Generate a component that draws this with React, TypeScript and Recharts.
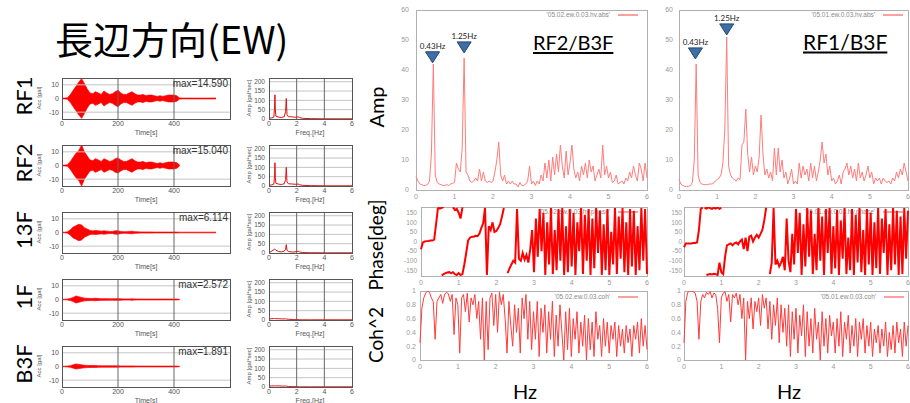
import React from 'react';
import {
  LineChart,
  Line,
  AreaChart,
  Area,
  XAxis,
  YAxis,
  ReferenceLine,
  ReferenceDot,
} from 'recharts';

// --- left column: acceleration records (envelope, gal) every 10 s ---
const TIME = [
  0, 10, 20, 30, 40, 50, 60, 70, 80, 90,
  100, 110, 120, 130, 140, 150, 160, 170, 180, 190,
  200, 210, 220, 230, 240, 250, 260, 270, 280, 290,
  300, 310, 320, 330, 340, 350, 360, 370, 380, 390,
  400, 410, 420, 430, 440, 450, 460, 470, 480, 490,
  500, 510, 520, 530, 540, 550, 560, 570, 580, 590,
  600,
];

const ACC_RF1 = [
  0.3, 0.3, 0.6, 3, 6, 9, 12, 14.5, 11, 7,
  4, 3.5, 5, 4, 3, 5.5, 4, 3, 3.5, 5,
  6, 4, 3, 3, 4, 5, 3.5, 2.5, 2.5, 3,
  2, 2.5, 2.5, 2, 1.5, 2, 1.5, 2, 2.5, 2.5,
  2.5, 2, 0.4, 0.3, 0.3, 0.3, 0.3, 0.3, 0.3, 0.3,
  0.3, 0.3, 0.3, 0.3, 0.3, 0.3, null, null, null, null,
  null,
];
const ACC_RF2 = [
  0.3, 0.3, 0.6, 3, 6, 9, 11, 15, 10, 7,
  4, 3.5, 5, 4, 3, 5, 4, 3, 3.5, 5,
  5.5, 4, 3, 3, 4, 5, 3.5, 2.5, 2.5, 3,
  2, 2.5, 2.5, 2, 1.5, 2, 1.5, 2, 2.5, 2.5,
  2.5, 2, 0.3, null, null, null, null, null, null, null,
  null, null, null, null, null, null, null, null, null, null,
  null,
];
const ACC_13F = [
  0.2, 0.2, 0.5, 2, 4, 5, 6, 5.5, 3.5, 2.5,
  1.5, 1.2, 1.5, 1.2, 1, 1.2, 1, 0.8, 0.8, 1.2,
  1.2, 0.8, 0.6, 0.6, 0.8, 1, 0.6, 0.5, 0.4, 0.4,
  0.4, 0.4, 0.4, 0.3, 0.3, 0.3, 0.3, 0.3, 0.3, 0.3,
  0.3, 0.3, 0.25, 0.25, 0.25, 0.25, 0.25, 0.25, 0.25, 0.25,
  0.25, 0.25, 0.25, 0.25, 0.25, 0.25, null, null, null, null,
  null,
];
const ACC_1F = [
  0.2, 0.2, 0.3, 0.8, 1.5, 2.6, 2, 1.5, 1, 0.9,
  0.8, 0.8, 0.9, 0.7, 0.6, 0.6, 0.6, 0.5, 0.5, 0.6,
  0.6, 0.5, 0.4, 0.4, 0.4, 0.5, 0.4, 0.3, 0.3, 0.3,
  0.3, 0.3, 0.3, 0.3, 0.3, 0.3, 0.3, 0.3, 0.3, 0.3,
  0.3, 0.3, 0.2, null, null, null, null, null, null, null,
  null, null, null, null, null, null, null, null, null, null,
  null,
];
const ACC_B3F = [
  0.2, 0.2, 0.3, 0.6, 1.2, 1.9, 1.5, 1.2, 0.9, 0.8,
  0.7, 0.7, 0.7, 0.6, 0.5, 0.5, 0.5, 0.5, 0.5, 0.5,
  0.5, 0.4, 0.4, 0.4, 0.4, 0.4, 0.35, 0.3, 0.3, 0.3,
  0.3, 0.3, 0.3, 0.3, 0.3, 0.3, 0.3, 0.3, 0.3, 0.3,
  0.3, 0.3, 0.2, null, null, null, null, null, null, null,
  null, null, null, null, null, null, null, null, null, null,
  null,
];

// --- left column: fourier spectra (gal*sec) ---
const SPEC_F = [0, 0.2, 0.35, 0.4, 0.43, 0.46, 0.5, 0.7, 0.9, 1.1, 1.2, 1.25, 1.3, 1.4, 1.6, 1.8, 2.0, 2.1, 2.2, 2.4, 2.6, 3, 4, 5, 6];
const SPEC_RF1 = [4, 6, 10, 60, 130, 50, 15, 10, 8, 12, 40, 110, 25, 12, 12, 10, 9, 12, 8, 4, 3, 2, 1, 1, 1];
const SPEC_RF2 = [4, 6, 10, 55, 125, 45, 14, 10, 8, 12, 35, 100, 22, 12, 11, 10, 9, 11, 7, 4, 3, 2, 1, 1, 1];
const SPEC_13F = [2, 10, 18, 20, 22, 18, 15, 8, 6, 10, 20, 45, 15, 8, 6, 5, 8, 10, 6, 3, 2, 1.5, 1, 1, 1];
const SPEC_1F = [5, 7, 8, 8, 8, 8, 7, 7, 6, 6, 6, 6, 5, 4, 3, 2, 2, 2, 1.5, 1, 1, 1, 1, 1, 1];
const SPEC_B3F = [4, 6, 6, 6, 6, 6, 6, 6, 5, 5, 5, 5, 4, 3, 2, 2, 1.5, 1.5, 1, 1, 1, 1, 1, 1, 1];

const FLOORS = ['RF1', 'RF2', '13F', '1F', 'B3F'];
const MAX_LABELS = ['max=14.590', 'max=15.040', 'max=6.114', 'max=2.572', 'max=1.891'];
const ACCS = [ACC_RF1, ACC_RF2, ACC_13F, ACC_1F, ACC_B3F];
const SPECS = [SPEC_RF1, SPEC_RF2, SPEC_13F, SPEC_1F, SPEC_B3F];

// --- right: transfer functions, 0.05 Hz step ---
const FREQ = [
  0, 0.05, 0.1, 0.15, 0.2, 0.25, 0.3, 0.35, 0.4, 0.45,
  0.5, 0.55, 0.6, 0.65, 0.7, 0.75, 0.8, 0.85, 0.9, 0.95,
  1, 1.05, 1.1, 1.15, 1.2, 1.25, 1.3, 1.35, 1.4, 1.45,
  1.5, 1.55, 1.6, 1.65, 1.7, 1.75, 1.8, 1.85, 1.9, 1.95,
  2, 2.05, 2.1, 2.15, 2.2, 2.25, 2.3, 2.35, 2.4, 2.45,
  2.5, 2.55, 2.6, 2.65, 2.7, 2.75, 2.8, 2.85, 2.9, 2.95,
  3, 3.05, 3.1, 3.15, 3.2, 3.25, 3.3, 3.35, 3.4, 3.45,
  3.5, 3.55, 3.6, 3.65, 3.7, 3.75, 3.8, 3.85, 3.9, 3.95,
  4, 4.05, 4.1, 4.15, 4.2, 4.25, 4.3, 4.35, 4.4, 4.45,
  4.5, 4.55, 4.6, 4.65, 4.7, 4.75, 4.8, 4.85, 4.9, 4.95,
  5, 5.05, 5.1, 5.15, 5.2, 5.25, 5.3, 5.35, 5.4, 5.45,
  5.5, 5.55, 5.6, 5.65, 5.7, 5.75, 5.8, 5.85, 5.9, 5.95,
  6,
];

// RF2/B3F
const AMP_A = [
  4.5, 3, 2, 1.8, 1.5, 1.5, 1.8, 3, 12, 42,
  5, 2.5, 2, 1.8, 1.5, 1.5, 1.8, 1.5, 2, 2.2,
  2.5, 9, 7, 6, 14, 44, 6, 5, 3, 2.5,
  3, 4, 3, 7, 3, 6, 3, 2.5, 3, 2.5,
  3, 6, 10, 16, 5, 3, 5, 2, 3, 2,
  3, 2, 2, 1, 2.5, 1.5, 1.5, 2, 3, 8,
  2, 3, 1.5, 3, 2, 5, 3, 9, 4, 10,
  3, 11, 5, 12, 6, 15, 8, 4, 13, 5,
  9, 15, 7, 4, 6, 3, 8, 5, 9, 4,
  10, 6, 8, 3, 5, 7, 4, 15, 5, 8,
  4, 6, 2.5, 3, 5, 2, 2.5, 3, 2, 4,
  3, 6, 4, 8, 5, 3, 9, 7, 3, 9,
  4,
];
const PHASE_A = [
  -40, -5, 0, 2, 3, 5, 5, 10, 90, 175,
  null, -178, -170, -165, -162, -160, -165, -160, -170, -175,
  -165, -175, -170, -120, -60, 5, 20, 25, 25, 30,
  28, 40, 70, 95, 175, -175, 80, 60, 100, 50,
  55, 70, 90, 130, 175, null, -165, -140, -120, -100,
  -110, 170, -90, -100, -60, -95, -70, -110, -40, 60,
  -160, 120, -80, 170, -50, 150, -175, 100, -120, 175,
  -170, 60, -150, 170, -100, 175, -175, 80, -160, 170,
  -130, 150, -175, 100, -50, 175, -170, 140, -100, 170,
  -175, 120, -140, 175, -60, 160, -175, 90, -150, 170,
  -175, 50, -120, 175, -170, 130, -90, 175, -160, 100,
  -175, 170, -130, 160, -175, 80, -150, 175, -100, 170,
  -170,
];
const PHASE_A_ALT_F = [0.45, 0.5, 0.55, 0.6, 0.7, 0.85, 0.9, 0.95, 1.0, 1.05, 1.1];
const PHASE_A_ALT = [178, 172, 176, 180, null, 178, 165, 170, 150, 120, 178];
const COH_A = [
  0.25, 0.75, 0.9, 0.97, 1, 0.98, 0.9, 0.85, 0.3, 0.85,
  0.9, 0.95, 0.82, 0.95, 0.98, 0.96, 0.85, 0.95, 0.37, 0.9,
  0.8, 0.1, 0.9, 0.95, 0.7, 0.97, 0.55, 0.9, 0.8, 0.95,
  0.6, 0.85, 0.3, 0.9, 0, 0.85, 0.15, 0.9, 0.97, 0.5,
  0.95, 0.4, 0.98, 0.8, 0.95, 0.6, 0.1, 0.85, 0.5, 0.2,
  0.8, 0.4, 0.75, 0.1, 0.9, 0.6, 0.95, 0.3, 0.85, 0.15,
  0.7, 0.3, 0.85, 0.05, 0.75, 0.4, 0.8, 0.1, 0.7, 0.3,
  0.85, 0.05, 0.65, 0.2, 0.8, 0.4, 0, 0.7, 0.15, 0.75,
  0.05, 0.6, 0.3, 0.7, 0.1, 0.55, 0.2, 0.65, 0, 0.6,
  0.15, 0.55, 0.05, 0.7, 0.3, 0.5, 0.05, 0.6, 0.2, 0.55,
  0.1, 0.5, 0.3, 0.55, 0.05, 0.5, 0.2, 0.45, 0.1, 0.5,
  0.25, 0.45, 0.05, 0.5, 0.3, 0.55, 0.1, 0.6, 0.2, 0.5,
  0.15,
];

// RF1/B3F
const AMP_B = [
  3.5, 2, 1.5, 1.2, 1.2, 1.2, 1.5, 2.5, 10, 42,
  5, 2.5, 2, 1.8, 1.8, 1.8, 2, 2, 2.2, 3,
  3.5, 4, 5, 9, 20, 51, 8, 5, 4, 3.5,
  3, 4, 3.5, 15, 16, 27, 12, 6, 11, 5,
  8, 6, 11, 25, 12, 5, 7, 4, 6, 3,
  14, 5, 14, 6, 10, 4, 6, 2, 4, 7,
  2, 3, 2, 9, 4, 8, 5, 7, 3, 9,
  4, 8, 3, 6, 10, 16, 9, 12, 5, 8,
  3, 4, 2, 3, 5, 2, 6, 7, 9, 5,
  8, 4, 7, 3, 9, 4, 6, 3, 5, 8,
  4, 6, 2, 4, 3, 4, 2, 4, 3, 2.5,
  3, 2, 4, 3, 6, 4, 7, 5, 9, 6,
  3,
];
const PHASE_B = [
  -30, -10, -10, -10, -10, -8, -8, -5, 60, 170,
  178, null, -175, -172, -170, -172, -168, -170, -175, -110,
  -160, -170, -80, -20, -15, -10, -20, -10, -5, -15,
  0, 10, -40, 20, -50, 25, 30, 0, 20, 35,
  20, 40, 60, 110, 175, null, -170, -110, 175, -120,
  -100, -130, -110, -80, -150, 120, -100, -160, 40, -120,
  170, -60, 150, -175, 90, -130, 175, -80, 160, -170,
  40, -150, 175, -100, 130, -175, 170, -60, 175, -170,
  80, -140, 165, -175, 110, -90, 175, -170, 20, -150,
  170, -175, 140, -110, 175, -160, 60, -175, 170, -120,
  150, -175, 100, -140, 175, -170, 120, -60, 170, -175,
  90, -150, 175, -120, 160, -175, 130, -170, 175, -90,
  160,
];
const PHASE_B_ALT_F = [0.55, 0.6, 0.65, 0.7, 0.75, 0.8, 0.85, 0.9, 0.95, 1.0];
const PHASE_B_ALT = [176, 172, 178, 174, 170, 176, 172, 178, 170, 175];
const COH_B = [
  0.25, 0.85, 0.98, 1, 1, 0.99, 0.97, 0.85, 0.3, 0.85,
  0.95, 0.9, 0.98, 0.95, 0.99, 0.9, 0.97, 0.95, 0.75, 0.25,
  0.9, 0.97, 0.99, 0.85, 0.95, 0.55, 0.95, 0.9, 0.97, 0.8,
  0.95, 0.6, 0.9, 0, 0.85, 0.6, 0.9, 0.45, 0.85, 0.7,
  0.9, 0.5, 0.95, 0.75, 0.9, 0.45, 0.85, 0.3, 0.8, 0.5,
  0.9, 0.25, 0.8, 0.4, 0.75, 0.2, 0.8, 0.05, 0.7, 0.3,
  0.75, 0.1, 0.65, 0.35, 0.8, 0.05, 0.7, 0.2, 0.6, 0.1,
  0.75, 0.3, 0.55, 0, 0.7, 0.2, 0.6, 0.1, 0.65, 0.35,
  0.55, 0.1, 0.6, 0.2, 0.7, 0.05, 0.55, 0.3, 0.65, 0.1,
  0.5, 0.2, 0.6, 0.05, 0.55, 0.3, 0.6, 0.1, 0.5, 0.2,
  0.55, 0.05, 0.45, 0.25, 0.5, 0.1, 0.45, 0.2, 0.55, 0.05,
  0.4, 0.15, 0.5, 0.1, 0.55, 0.25, 0.45, 0.05, 0.55, 0.2,
  0.5,
];

const PEAK_F = [0.43, 1.25];
const PEAK_LABELS = ['0.43Hz', '1.25Hz'];
const PEAK_TIP_A = [42.4, 45.7];
const PEAK_TIP_B = [43.7, 51.7];

const SANS = '"Liberation Sans", Arial, sans-serif';
const HUMAN = 'Lato, "Open Sans", sans-serif';

type Box = { x: number; y: number; w: number; h: number };

function Frame({ b, color }: { b: Box; color: string }) {
  return (
    <div
      style={{
        position: 'absolute',
        left: b.x,
        top: b.y,
        width: b.w + 1,
        height: b.h + 1,
        border: `1px solid ${color}`,
        boxSizing: 'border-box',
        pointerEvents: 'none',
      }}
    />
  );
}

function T({
  x, y, size, text, align = 'center', rot = false, color = '#000', font = HUMAN, underline = false,
}: {
  x: number; y: number; size: number; text: string; align?: string; rot?: boolean;
  color?: string; font?: string; underline?: boolean;
}) {
  const tx = align === 'center' ? '-50%' : align === 'right' ? '-100%' : '0';
  return (
    <div
      style={{
        position: 'absolute',
        left: x,
        top: y,
        transform: `translate(${tx},-50%)${rot ? ' rotate(-90deg)' : ''}`,
        fontSize: size,
        fontFamily: font,
        color,
        lineHeight: 1,
        whiteSpace: 'nowrap',
        textDecoration: underline ? 'underline' : 'none',
        textUnderlineOffset: 2,
        textDecorationThickness: 1.5,
      }}
    >
      {text}
    </div>
  );
}

function AccPlot({ top, acc }: { top: number; acc: (number | null)[] }) {
  const b = { x: 62, y: top, w: 168, h: 41 };
  const yw = 24, xh = 18, mt = 4, mr = 4;
  const data = TIME.map((t, i) => ({ t, v: acc[i] == null ? null : [-(acc[i] as number), acc[i]] }));
  return (
    <div style={{ position: 'absolute', left: b.x - yw, top: b.y - mt }}>
      <AreaChart width={yw + b.w + mr} height={mt + b.h + xh} data={data} margin={{ top: mt, right: mr, bottom: 0, left: 0 }}>
        <XAxis dataKey="t" type="number" domain={[0, 600]} ticks={[0, 200, 400]} height={xh} tickLine={false} axisLine={false} tickSize={0} tickMargin={2} interval={0} tick={{ fontSize: 7, fill: '#555', fontFamily: SANS }} />
        <YAxis type="number" domain={[-15, 15]} ticks={[-10, 0, 10]} width={yw} tickLine={false} axisLine={false} tickSize={0} tickMargin={3} interval={0} tick={{ fontSize: 7, fill: '#555', fontFamily: SANS }} />
        <ReferenceLine y={10} stroke="#c4c4c4" />
        <ReferenceLine y={-10} stroke="#c4c4c4" />
        <ReferenceLine x={200} stroke="#666" />
        <ReferenceLine x={400} stroke="#666" />
        <Area dataKey="v" type="linear" stroke="#f00" strokeWidth={0.7} fill="#f00" fillOpacity={1} dot={false} activeDot={false} isAnimationActive={false} />
      </AreaChart>
    </div>
  );
}

function SpecPlot({ top, spec }: { top: number; spec: number[] }) {
  const b = { x: 269, y: top, w: 83, h: 41 };
  const yw = 24, xh = 18, mt = 4, mr = 4;
  const data = SPEC_F.map((f, i) => ({ f, a: spec[i] }));
  return (
    <div style={{ position: 'absolute', left: b.x - yw, top: b.y - mt }}>
      <LineChart width={yw + b.w + mr} height={mt + b.h + xh} data={data} margin={{ top: mt, right: mr, bottom: 0, left: 0 }}>
        <XAxis dataKey="f" type="number" domain={[0, 6]} ticks={[0, 2, 4, 6]} height={xh} tickLine={false} axisLine={false} tickSize={0} tickMargin={2} interval={0} tick={{ fontSize: 7, fill: '#555', fontFamily: SANS }} />
        <YAxis type="number" domain={[0, 220]} ticks={[0, 50, 100, 150, 200]} width={yw} tickLine={false} axisLine={false} tickSize={0} tickMargin={4} interval={0} tick={{ fontSize: 6.5, fill: '#555', fontFamily: SANS }} />
        {[50, 100, 150, 200].map((v) => <ReferenceLine key={v} y={v} stroke="#c4c4c4" />)}
        <ReferenceLine x={2} stroke="#666" />
        <ReferenceLine x={4} stroke="#666" />
        <Line dataKey="a" type="linear" stroke="#e01010" strokeWidth={1} dot={false} activeDot={false} isAnimationActive={false} />
      </LineChart>
    </div>
  );
}

function Marker(props: any) {
  const { cx, cy, label } = props;
  return (
    <g>
      <text x={cx} y={cy - 14} textAnchor="middle" fontSize={8} fill="#222" fontFamily={HUMAN}>{label}</text>
      <path d={`M${cx - 7},${cy - 11} L${cx + 7},${cy - 11} L${cx},${cy} Z`} fill="#3d6fa6" stroke="#23466f" strokeWidth={1} />
    </g>
  );
}

function FreqPanel({
  b, yw, tm, domain, ticks, values, color, width, alt, peaks, fs = 7,
}: {
  b: Box; yw: number; tm: number; domain: number[]; ticks: number[]; values: (number | null)[];
  color: string; width: number; alt?: { f: number[]; v: (number | null)[] };
  peaks?: number[]; fs?: number;
}) {
  const xh = 12, mt = 6, mr = 2;
  const data = FREQ.map((f, i) => ({ f, v: values[i] }));
  const altData = alt ? alt.f.map((f, i) => ({ f, v: alt.v[i] })) : null;
  return (
    <div style={{ position: 'absolute', left: b.x - yw, top: b.y - mt }}>
      <LineChart width={yw + b.w + mr} height={mt + b.h + xh} data={data} margin={{ top: mt, right: mr, bottom: 0, left: 0 }}>
        <XAxis dataKey="f" type="number" domain={[0, 6]} ticks={[0, 1, 2, 3, 4, 5, 6]} height={xh} tickLine={false} axisLine={false} tickSize={0} tickMargin={4} interval={0} tick={{ fontSize: 7, fill: '#9a9a9a', fontFamily: SANS }} />
        <YAxis type="number" domain={domain} ticks={ticks} width={yw} tickLine={false} axisLine={false} tickSize={0} tickMargin={tm} interval={0} allowDataOverflow tick={{ fontSize: fs, fill: '#9a9a9a', fontFamily: SANS }} />
        <Line dataKey="v" type="linear" stroke={color} strokeWidth={width} dot={false} activeDot={false} connectNulls={false} isAnimationActive={false} />
        {altData && (
          <Line data={altData} dataKey="v" type="linear" stroke={color} strokeWidth={width} dot={false} activeDot={false} connectNulls={false} isAnimationActive={false} />
        )}
        {peaks && PEAK_F.map((f, i) => (
          <ReferenceDot key={f} x={f} y={peaks[i]} r={6} shape={(p: any) => <Marker {...p} label={PEAK_LABELS[i]} />} />
        ))}
      </LineChart>
    </div>
  );
}

function Legend({ right, y, text }: { right: number; y: number; text: string }) {
  return (
    <>
      <T x={right} y={y} size={6.5} text={text} align="right" color="#8a8a8a" font={SANS} />
      <div style={{ position: 'absolute', left: right + 8, top: y - 1, width: 20, height: 2, background: '#ffa0a0' }} />
    </>
  );
}

export default function App() {
  const rowTops = [78, 145, 212, 279, 346];
  const ampA = { x: 416, y: 10, w: 231, h: 180 };
  const phA = { x: 421, y: 207, w: 226, h: 69 };
  const cohA = { x: 420, y: 291, w: 227, h: 69 };
  const ampB = { x: 679, y: 10, w: 229, h: 180 };
  const phB = { x: 684, y: 207, w: 224, h: 69 };
  const cohB = { x: 684, y: 291, w: 224, h: 69 };
  return (
    <div style={{ position: 'fixed', left: 0, top: 0, width: 910, height: 403, overflow: 'hidden', background: '#fff' }}>
      <T x={55} y={38} size={38} text="長辺方向(EW)" align="left" font='"Noto Sans CJK JP", sans-serif' />

      {FLOORS.map((name, i) => (
        <React.Fragment key={name}>
          <T x={24} y={rowTops[i] + 18} size={22} text={name} rot />
          <T x={39} y={rowTops[i] + 20} size={6} text="Acc [gal]" rot color="#555" font={SANS} />
          <T x={249} y={rowTops[i] + 20} size={6} text="Amp [gal*sec]" rot color="#555" font={SANS} />
          <T x={146} y={rowTops[i] + 54} size={7} text="Time[s]" color="#555" font={SANS} />
          <T x={310} y={rowTops[i] + 54} size={7} text="Freq.[Hz]" color="#555" font={SANS} />
          <AccPlot top={rowTops[i]} acc={ACCS[i]} />
          <SpecPlot top={rowTops[i]} spec={SPECS[i]} />
          <T x={228} y={rowTops[i] + 6} size={10} text={MAX_LABELS[i]} align="right" color="#333" font={SANS} />
          <Frame b={{ x: 62, y: rowTops[i], w: 168, h: 41 }} color="#555" />
          <Frame b={{ x: 269, y: rowTops[i], w: 83, h: 41 }} color="#555" />
        </React.Fragment>
      ))}

      <T x={376} y={107} size={20} text="Amp" rot />
      <T x={375} y={245} size={19} text="Phase[deg]" rot />
      <T x={375} y={335} size={19} text="Coh^2" rot />

      <Legend right={610} y={15} text="'05.02.ew.0.03.hv.abs'" />
      <Legend right={610} y={212} text="'05.02.ew.0.03.hv.phase'" />
      <Legend right={610} y={297} text="'05.02.ew.0.03.coh'" />
      <Legend right={875} y={15} text="'05.01.ew.0.03.hv.abs'" />
      <Legend right={875} y={212} text="'05.01.ew.0.03.hv.phase'" />
      <Legend right={876} y={297} text="'05.01.ew.0.03.coh'" />

      <Frame b={ampA} color="#b0b0b0" />
      <Frame b={phA} color="#b0b0b0" />
      <Frame b={cohA} color="#b0b0b0" />
      <Frame b={ampB} color="#b0b0b0" />
      <Frame b={phB} color="#b0b0b0" />
      <Frame b={cohB} color="#b0b0b0" />

      <FreqPanel b={ampA} yw={24} tm={7} domain={[0, 60]} ticks={[0, 10, 20, 30, 40, 50, 60]} values={AMP_A} color="#ff7c7c" width={1} peaks={PEAK_TIP_A} />
      <FreqPanel b={phA} yw={26} tm={4} domain={[-180, 180]} ticks={[-150, -100, -50, 0, 50, 100, 150]} values={PHASE_A} color="#ff0000" width={2} alt={{ f: PHASE_A_ALT_F, v: PHASE_A_ALT }} fs={6.5} />
      <FreqPanel b={cohA} yw={26} tm={4} domain={[0, 1]} ticks={[0, 0.2, 0.4, 0.6, 0.8, 1]} values={COH_A} color="#ff3a3a" width={1} />
      <FreqPanel b={ampB} yw={24} tm={6} domain={[0, 60]} ticks={[0, 10, 20, 30, 40, 50, 60]} values={AMP_B} color="#ff7c7c" width={1} peaks={PEAK_TIP_B} />
      <FreqPanel b={phB} yw={26} tm={2} domain={[-180, 180]} ticks={[-150, -100, -50, 0, 50, 100, 150]} values={PHASE_B} color="#ff0000" width={2} alt={{ f: PHASE_B_ALT_F, v: PHASE_B_ALT }} fs={6.5} />
      <FreqPanel b={cohB} yw={26} tm={3} domain={[0, 1]} ticks={[0, 0.2, 0.4, 0.6, 0.8, 1]} values={COH_B} color="#ff3a3a" width={1} />

      <T x={533} y={42} size={20} text="RF2/B3F" align="left" underline />
      <T x={803} y={41} size={21} text="RF1/B3F" align="left" underline />
      <T x={525} y={391} size={20} text="Hz" />
      <T x={789} y={391} size={20} text="Hz" />
    </div>
  );
}
